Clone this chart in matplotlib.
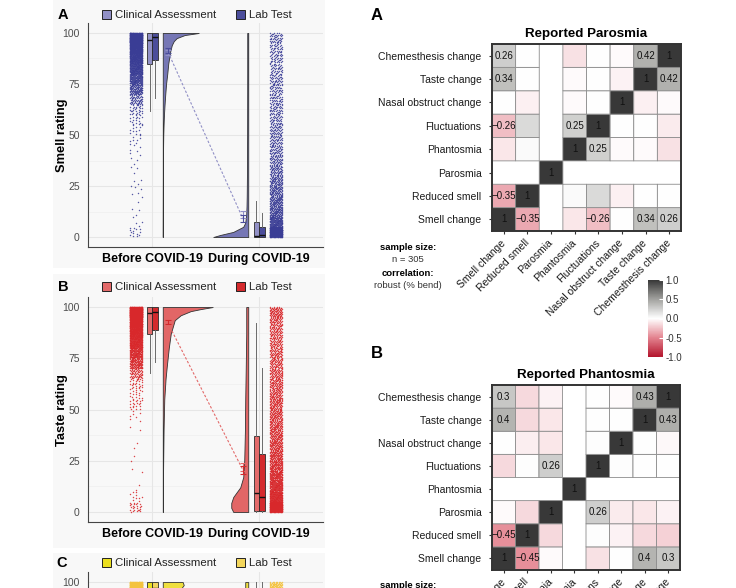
import numpy as np
import matplotlib
matplotlib.use("Agg")
import matplotlib.pyplot as plt
from matplotlib.patches import Patch, Rectangle
from matplotlib.colors import LinearSegmentedColormap, Normalize
from matplotlib.cm import ScalarMappable

plt.rcParams['font.family'] = ['Liberation Sans', 'DejaVu Sans']

# ---------------------------------------------------------------- data
time_labels = ['Before COVID-19', 'During COVID-19']
group_labels = ['Clinical Assessment', 'Lab Test']
rating_ticks = [0, 25, 50, 75, 100]
bin_low = list(range(0, 100, 5))          # rating bins 0-5, 5-10, ... 95-100

# points per rating bin (read from the strips)
smell_before_counts = [14, 4, 3, 2, 4, 4, 3, 4, 5, 8, 12, 18, 30, 60, 110, 150, 200, 260, 350, 600]
smell_during_counts = [400, 150, 110, 100, 90, 80, 70, 60, 55, 50, 50, 45, 45, 45, 45, 45, 40, 40, 40, 45]
taste_before_counts = [25, 10, 2, 1, 1, 2, 2, 1, 2, 6, 20, 16, 25, 60, 120, 160, 220, 280, 380, 700]
taste_during_counts = [400, 200, 160, 140, 120, 110, 100, 95, 90, 90, 85, 80, 80, 75, 70, 70, 65, 65, 70, 90]
chem_before_counts = [10, 4, 3, 3, 4, 4, 5, 6, 8, 10, 15, 20, 30, 50, 80, 110, 150, 200, 280, 600]
chem_during_counts = [200, 90, 80, 75, 70, 65, 60, 60, 55, 55, 55, 55, 50, 50, 50, 50, 50, 50, 55, 120]

# box statistics: [whisker low, Q1, median, Q3, whisker high]
smell_box_clin = [[62, 85, 96.5, 100, 100], [0, 0, 0.5, 7.4, 17.6]]
smell_box_lab = [[68, 87, 98, 100, 100], [0, 0, 0.8, 4.9, 12]]
taste_box_clin = [[68, 87, 97, 100, 100], [0, 0.5, 9.2, 37, 92]]
taste_box_lab = [[73, 89, 97.7, 100, 100], [0, 0.5, 7.4, 28.3, 70.4]]
chem_box_clin = [[60, 84, 96, 100, 100], [0, 5, 30, 70, 100]]
chem_box_lab = [[65, 86, 97, 100, 100], [0, 3, 25, 62, 100]]

# group means and their error
smell_mean_clin = [90.6, 11.0]
smell_mean_lab = [91.6, 9.0]
smell_mean_err = [1.2, 1.6]
taste_mean_clin = [92.0, 22.0]
taste_mean_lab = [92.6, 20.5]
taste_mean_err = [1.0, 1.8]
chem_mean_clin = [90.0, 40.0]
chem_mean_lab = [91.0, 38.0]
chem_mean_err = [1.2, 1.8]

# half-violin profiles (rating level, density width)
smell_vb_y = [0, 40, 50, 55, 60, 65, 70, 75, 80, 85, 88, 91, 94, 96, 97.5, 99, 100]
smell_vb_w = [0, 0.2, 0.5, 0.8, 1.2, 1.8, 2.5, 3.3, 4.5, 5.5, 6.5, 7.5, 9, 11, 14, 22, 36]
smell_vd_y = [0, 1, 2.5, 4, 5, 7, 11, 15, 20, 30, 50, 80, 100]
smell_vd_w = [35, 28, 15, 9, 5, 3, 2, 1.7, 1.5, 1.3, 1.1, 1.0, 1.0]
taste_vb_y = [0, 20, 40, 55, 65, 71, 80, 87, 93.6, 96, 98, 99, 100]
taste_vb_w = [0.2, 0.3, 0.8, 1.5, 2.8, 4, 6, 8, 12, 18, 28, 38, 50]
taste_vd_y = [0, 2, 4.4, 7.3, 10, 12, 17, 25, 40, 55, 70, 87, 100]
taste_vd_w = [15, 17, 17, 15, 11, 8, 5, 4, 3.3, 3, 2.5, 2, 2]
chem_vb_y = [0, 40, 60, 70, 80, 88, 93, 96, 98.5, 100]
chem_vb_w = [0.2, 1, 2, 3, 5, 8, 12, 17, 21, 20]
chem_vd_y = [0, 5, 20, 40, 60, 80, 95, 100]
chem_vd_w = [6, 5, 4, 3.5, 3, 3, 3, 3]

# correlation matrices (row/column order = heat_vars, NaN = constant variable)
heat_vars = ['Smell change', 'Reduced smell', 'Parosmia', 'Phantosmia', 'Fluctuations',
             'Nasal obstruct change', 'Taste change', 'Chemesthesis change']
nan = float('nan')
parosmia_corr = [
    [1, -0.35, nan, -0.10, -0.26, 0.0, 0.34, 0.26],
    [-0.35, 1, nan, 0.03, 0.20, -0.06, 0.0, 0.0],
    [nan, nan, 1, nan, nan, nan, nan, nan],
    [-0.10, 0.03, nan, 1, 0.25, -0.02, -0.02, -0.12],
    [-0.26, 0.20, nan, 0.25, 1, 0.0, 0.0, -0.08],
    [0.0, -0.06, nan, -0.02, 0.0, 1, -0.06, -0.02],
    [0.34, 0.0, nan, -0.02, 0.0, -0.05, 1, 0.42],
    [0.26, 0.0, nan, -0.12, 0.0, -0.02, 0.42, 1],
]
phantosmia_corr = [
    [1, -0.45, -0.02, nan, -0.12, 0.0, 0.40, 0.30],
    [-0.45, 1, -0.15, nan, 0.01, -0.05, -0.15, -0.18],
    [-0.02, -0.15, 1, nan, 0.26, -0.08, -0.10, -0.05],
    [nan, nan, nan, 1, nan, nan, nan, nan],
    [-0.15, 0.01, 0.26, nan, 1, 0.01, 0.0, 0.0],
    [0.0, -0.07, -0.10, nan, 0.01, 1, 0.0, -0.03],
    [0.40, -0.15, -0.10, nan, 0.0, 0.0, 1, 0.43],
    [0.30, -0.15, -0.05, nan, 0.0, -0.02, 0.43, 1],
]
cbar_ticks = [-1.0, -0.5, 0.0, 0.5, 1.0]
sample_n = 305

# ---------------------------------------------------------------- figure
W, H = 736, 588
fig = plt.figure(figsize=(W / 100, H / 100), dpi=100)


def add_ax(l, t, r, b):
    return fig.add_axes([l / W, 1 - b / H, (r - l) / W, (b - t) / H])


def bg_rect(t, b):
    fig.patches.append(Rectangle((53 / W, 1 - b / H), (325 - 53) / W, (b - t) / H,
                                 transform=fig.transFigure, facecolor='#f8f8f8',
                                 edgecolor='none', zorder=-20))


def strip_points(counts, center, width):
    # low-discrepancy (R2 sequence) jitter inside each rating bin
    xs, ys = [], []
    for b, n in enumerate(counts):
        k = np.arange(n) + 1 + b * 97
        u = (0.5 + k * 0.7548776662) % 1.0
        v = (0.5 + k * 0.5698402910) % 1.0
        xs.append(center + (u - 0.5) * width)
        ys.append(bin_low[b] + v * 5)
    return np.concatenate(xs), np.concatenate(ys)


STRIP_X = (0.85, 2.16)
STRIP_W = 0.12
BOX_X = ((0.976, 1.028), (1.976, 2.028))
BOX_W = 0.05
V_BASE = (1.10, 1.90)
MEAN_X = (1.15, 1.85)
V_SCALE = 1 / 107.0


def raincloud(ax, counts, boxes_clin, boxes_lab, mean_clin, mean_lab, mean_err,
              vb, vd, c_clin, c_lab, c_pt, c_vio, show_x=True, yt=rating_ticks):
    ax.set_facecolor('none')
    ax.set_xlim(0.4, 2.6)
    ax.set_ylim(-4.9, 104.9)
    ax.set_yticks(yt)
    ax.set_yticks([12.5, 37.5, 62.5, 87.5], minor=True)
    for yv in rating_ticks:
        ax.axhline(yv, color='#e6e6e6', lw=0.8, zorder=0)
    for yv in (12.5, 37.5, 62.5, 87.5):
        ax.axhline(yv, color='#efefef', lw=0.5, zorder=0)
    for xv in (1, 2):
        ax.axvline(xv, color='#e6e6e6', lw=0.8, zorder=0)
    for s in ('top', 'right'):
        ax.spines[s].set_visible(False)
    for s in ('left', 'bottom'):
        ax.spines[s].set_color('#444444')
        ax.spines[s].set_linewidth(0.8)
    ax.set_xticks([1, 2])
    if show_x:
        ax.set_xticklabels(time_labels, fontsize=9, fontweight='bold', color='black')
    else:
        ax.set_xticklabels([])
    ax.tick_params(axis='y', length=0, pad=6, labelsize=7.5, labelcolor='#4d4d4d')
    ax.tick_params(axis='y', which='minor', length=0)
    ax.tick_params(axis='x', length=0, pad=4.5)

    # jittered raw points
    for t in range(2):
        xs, ys = strip_points(counts[t], STRIP_X[t], STRIP_W)
        ax.scatter(xs, ys, s=1.1, color=c_pt, linewidths=0, alpha=0.85, zorder=2)

    # half violins
    yb, wb = np.array(vb[0], float), np.array(vb[1], float) * V_SCALE
    ax.fill_betweenx(yb, V_BASE[0], V_BASE[0] + wb, facecolor=c_vio, edgecolor='#333333',
                     lw=0.6, zorder=3)
    yd, wd = np.array(vd[0], float), np.array(vd[1], float) * V_SCALE
    ax.fill_betweenx(yd, V_BASE[1] - wd, V_BASE[1], facecolor=c_vio, edgecolor='#333333',
                     lw=0.6, zorder=3)

    # boxes
    for t in range(2):
        for g, (bx, col) in enumerate(((boxes_clin, c_clin), (boxes_lab, c_lab))):
            lo, q1, md, q3, hi = bx[t]
            st = [dict(whislo=lo, q1=q1, med=md, q3=q3, whishi=hi, fliers=[])]
            ax.bxp(st, positions=[BOX_X[t][g]], widths=BOX_W, patch_artist=True,
                   showfliers=False, showcaps=False, manage_ticks=False,
                   boxprops=dict(facecolor=col, edgecolor='#2b2b2b', lw=0.6),
                   medianprops=dict(color='#111111', lw=1.0),
                   whiskerprops=dict(color='#6a6a6a', lw=0.7), zorder=4)

    # means + dashed connection
    ax.plot(MEAN_X, [mean_clin[0], mean_lab[1]], ls=(0, (2.2, 1.6)), color=c_clin, lw=0.8, zorder=5)
    ax.errorbar(MEAN_X, mean_clin, yerr=mean_err, fmt='none', ecolor=c_clin, capsize=2.5,
                elinewidth=0.8, capthick=0.8, zorder=6)
    ax.errorbar(MEAN_X, mean_lab, yerr=mean_err, fmt='none', ecolor=c_lab, capsize=2.5,
                elinewidth=0.8, capthick=0.8, zorder=6)


def panel_legend(y_px, c_clin, c_lab):
    handles = [Patch(facecolor=c_clin, edgecolor='#222222', linewidth=0.7),
               Patch(facecolor=c_lab, edgecolor='#222222', linewidth=0.7)]
    leg = fig.legend(handles, group_labels, loc='center left',
                     bbox_to_anchor=(102 / W, 1 - y_px / H), ncol=2, frameon=False,
                     fontsize=8.2, handlelength=0.8, handleheight=0.8, handletextpad=0.35,
                     columnspacing=1.7, borderpad=0, borderaxespad=0)
    for tx in leg.get_texts():
        tx.set_color('#222222')


# backgrounds of the left panels
bg_rect(0, 268)
bg_rect(274, 548)
bg_rect(553, 588)

# panel A (smell)
axA = add_ax(88, 23, 323, 247)
raincloud(axA, (smell_before_counts, smell_during_counts), smell_box_clin, smell_box_lab,
          smell_mean_clin, smell_mean_lab, smell_mean_err,
          (smell_vb_y, smell_vb_w), (smell_vd_y, smell_vd_w),
          '#9190c6', '#4b4d9b', '#3a3d95', '#7677b5')
fig.text(63 / W, 1 - 15 / H, 'A', fontsize=10.5, fontweight='bold', ha='center', va='center')
fig.text(62 / W, 1 - 135 / H, 'Smell rating', fontsize=9.3, fontweight='bold', rotation=90,
         ha='center', va='center')
panel_legend(15, '#9190c6', '#4b4d9b')

# panel B (taste)
axB = add_ax(88, 297, 323, 522)
raincloud(axB, (taste_before_counts, taste_during_counts), taste_box_clin, taste_box_lab,
          taste_mean_clin, taste_mean_lab, taste_mean_err,
          (taste_vb_y, taste_vb_w), (taste_vd_y, taste_vd_w),
          '#e36a6a', '#d42a2d', '#d8282b', '#e26666')
fig.text(63 / W, 1 - 287 / H, 'B', fontsize=10.5, fontweight='bold', ha='center', va='center')
fig.text(62 / W, 1 - 410 / H, 'Taste rating', fontsize=9.3, fontweight='bold', rotation=90,
         ha='center', va='center')
panel_legend(287, '#e36a6a', '#d42a2d')

# panel C (chemesthesis, cut at the figure edge: only its top is visible)
axC = add_ax(88, 572, 323, 797)
raincloud(axC, (chem_before_counts, chem_during_counts), chem_box_clin, chem_box_lab,
          chem_mean_clin, chem_mean_lab, chem_mean_err,
          (chem_vb_y, chem_vb_w), (chem_vd_y, chem_vd_w),
          '#ebdf1f', '#f3d65c', '#f4c33e', '#efdf3e', show_x=False, yt=[100])
fig.text(62 / W, 1 - 563 / H, 'C', fontsize=10.5, fontweight='bold', ha='center', va='center')
panel_legend(563, '#ebdf1f', '#f3d65c')

# ---------------------------------------------------------------- heatmaps
cmap = LinearSegmentedColormap.from_list(
    'corr', [(0.0, '#b3142c'), (0.25, '#e3838f'), (0.5, '#ffffff'), (0.75, '#a2a29f'), (1.0, '#383838')])


def fmt_r(v):
    s = f'{v:.2f}'.rstrip('0').rstrip('.')
    return s.replace('-', '\u2212')


def corr_heatmap(ax, mat, title):
    m = np.ma.masked_invalid(np.array(mat, float))
    n = len(heat_vars)
    ax.pcolor(np.arange(n + 1), np.arange(n + 1), m, cmap=cmap, vmin=-1, vmax=1,
              edgecolors='#8c8c8c', linewidth=0.6)
    for i in range(n):
        for j in range(n):
            v = m[i, j]
            if v is not np.ma.masked and abs(v) >= 0.245:
                ax.text(j + 0.5, i + 0.5, fmt_r(float(v)), ha='center', va='center',
                        fontsize=7, color='#111111')
    ax.set_xlim(0, n)
    ax.set_ylim(0, n)
    ax.set_xticks(np.arange(n) + 0.5)
    ax.set_xticklabels(heat_vars, rotation=45, ha='right', va='center', rotation_mode='anchor',
                       fontsize=7.5, color='#1a1a1a')
    ax.set_yticks(np.arange(n) + 0.5)
    ax.set_yticklabels(heat_vars, fontsize=7.5, color='#1a1a1a')
    ax.tick_params(axis='both', length=2.5, width=0.8, color='#333333', pad=5)
    for s in ax.spines.values():
        s.set_linewidth(1.4)
        s.set_color('#333333')
    ax.set_title(title, fontsize=9.6, fontweight='bold', pad=5)


hA = add_ax(492, 44, 681, 231)
corr_heatmap(hA, parosmia_corr, 'Reported Parosmia')
fig.text(377 / W, 1 - 15 / H, 'A', fontsize=12, fontweight='bold', ha='center', va='center')

hB = add_ax(492, 385, 680, 570)
corr_heatmap(hB, phantosmia_corr, 'Reported Phantosmia')
fig.text(377 / W, 1 - 354 / H, 'B', fontsize=12, fontweight='bold', ha='center', va='center')

for y0 in (247, 585):
    fig.text(408 / W, 1 - y0 / H, 'sample size:', fontsize=6.8, fontweight='bold',
             ha='center', va='center')
    fig.text(408 / W, 1 - (y0 + 13) / H, f'n = {sample_n}', fontsize=6.8, ha='center',
             va='center', color='#333333')
    fig.text(408 / W, 1 - (y0 + 26) / H, 'correlation:', fontsize=6.8, fontweight='bold',
             ha='center', va='center')
    fig.text(408 / W, 1 - (y0 + 39) / H, 'robust (% bend)', fontsize=6.8, ha='center',
             va='center', color='#333333')

cax = add_ax(648, 280, 663, 357)
cb = fig.colorbar(ScalarMappable(norm=Normalize(-1, 1), cmap=cmap), cax=cax, ticks=cbar_ticks)
cb.outline.set_visible(False)
cb.ax.set_yticklabels([f'{t:.1f}' for t in cbar_ticks])
cax.tick_params(length=3, color='white', direction='in', labelsize=7, labelcolor='#333333', pad=2)

fig.savefig('out.png', dpi=100)
